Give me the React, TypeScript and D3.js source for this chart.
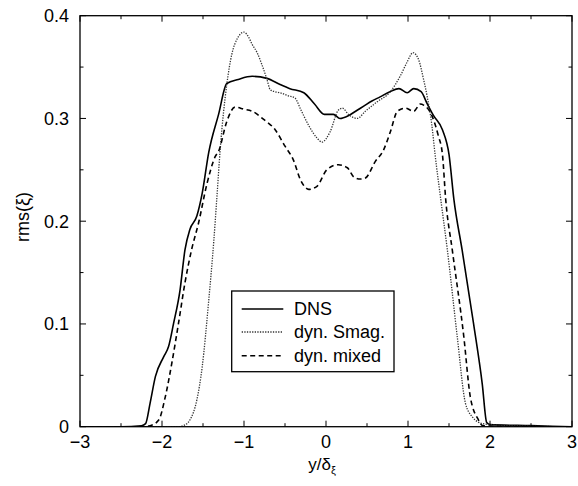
import React from "react";
import * as d3 from "d3";

const dnsX = [-3, -2.5, -2.25, -2.2, -2.145, -2.08, -1.98, -1.92, -1.86, -1.78, -1.72, -1.66, -1.575, -1.51, -1.43, -1.31, -1.21, -1.07, -0.9, -0.72, -0.56, -0.44, -0.27, -0.14, -0.02, 0.09, 0.17, 0.28, 0.38, 0.46, 0.56, 0.66, 0.78, 0.89, 0.99, 1.07, 1.16, 1.23, 1.31, 1.42, 1.5, 1.56, 1.66, 1.8, 1.905, 1.96, 2.0, 2.5, 3];
const dnsY = [0, 0, 0.001, 0.003, 0.023, 0.049, 0.068, 0.078, 0.1, 0.133, 0.172, 0.192, 0.205, 0.227, 0.267, 0.304, 0.334, 0.338, 0.341, 0.339, 0.333, 0.329, 0.325, 0.314, 0.304, 0.304, 0.3, 0.303, 0.308, 0.312, 0.317, 0.321, 0.326, 0.329, 0.325, 0.329, 0.326, 0.315, 0.303, 0.289, 0.265, 0.221, 0.172, 0.1, 0.042, 0.004, 0.002, 0.001, 0];

const smagX = [-3, -1.8, -1.74, -1.66, -1.575, -1.51, -1.43, -1.37, -1.33, -1.29, -1.21, -1.15, -1.08, -1.0, -0.95, -0.9, -0.84, -0.78, -0.72, -0.68, -0.62, -0.56, -0.46, -0.38, -0.31, -0.21, -0.11, -0.05, 0.05, 0.15, 0.2, 0.28, 0.38, 0.48, 0.62, 0.785, 0.91, 0.99, 1.06, 1.13, 1.19, 1.23, 1.29, 1.33, 1.4, 1.48, 1.6, 1.7, 1.78, 1.91, 2.2, 3];
const smagY = [0, 0, 0.001, 0.0065, 0.026, 0.058, 0.123, 0.179, 0.224, 0.27, 0.333, 0.362, 0.378, 0.384, 0.38, 0.372, 0.364, 0.352, 0.338, 0.328, 0.326, 0.325, 0.322, 0.32, 0.309, 0.293, 0.281, 0.277, 0.287, 0.308, 0.31, 0.3035, 0.3, 0.307, 0.316, 0.326, 0.342, 0.355, 0.364, 0.357, 0.338, 0.323, 0.294, 0.265, 0.221, 0.172, 0.088, 0.023, 0.01, 0.003, 0.001, 0];

const mixedX = [-3, -2.25, -2.145, -2.04, -1.96, -1.88, -1.8, -1.72, -1.64, -1.555, -1.45, -1.35, -1.31, -1.21, -1.11, -1.0, -0.9, -0.76, -0.62, -0.5, -0.4, -0.31, -0.21, -0.11, 0.01, 0.15, 0.26, 0.34, 0.42, 0.48, 0.6, 0.7, 0.785, 0.87, 0.97, 1.07, 1.15, 1.19, 1.29, 1.37, 1.42, 1.46, 1.54, 1.68, 1.76, 1.86, 1.91, 2.3, 3];
const mixedY = [0, 0, 0.001, 0.0065, 0.029, 0.062, 0.1, 0.14, 0.172, 0.198, 0.237, 0.263, 0.268, 0.297, 0.311, 0.309, 0.307, 0.299, 0.289, 0.273, 0.26, 0.24, 0.231, 0.234, 0.25, 0.255, 0.252, 0.243, 0.241, 0.242, 0.258, 0.269, 0.287, 0.307, 0.31, 0.307, 0.314, 0.313, 0.303, 0.283, 0.265, 0.221, 0.172, 0.088, 0.029, 0.0065, 0.001, 0, 0];

const xMajor = [-3, -2, -1, 0, 1, 2, 3];
const xMinor = [-2.5, -1.5, -0.5, 0.5, 1.5, 2.5];
const yMajor = [0, 0.1, 0.2, 0.3, 0.4];
const yMinor = [0.05, 0.15, 0.25, 0.35];
const yTickLabels = ["0", "0.1", "0.2", "0.3", "0.4"];
const xTickLabels = ["\u22123", "\u22122", "\u22121", "0", "1", "2", "3"];
const legendLabels = ["DNS", "dyn. Smag.", "dyn. mixed"];

const W = 578, H = 486;
const L = 80, R = 572, T = 15.7, B = 426.7;
const FONT = "'Liberation Sans', Arial, Helvetica, sans-serif";

export default function App() {
  const x = d3.scaleLinear().domain([-3, 3]).range([L, R]);
  const y = d3.scaleLinear().domain([0, 0.4]).range([B, T]);
  const line = d3
    .line<[number, number]>()
    .x((d) => x(d[0]))
    .y((d) => y(d[1]))
    .curve(d3.curveMonotoneX);
  const zip = (a: number[], b: number[]) => a.map((v, i) => [v, b[i]] as [number, number]);

  const series = [
    { d: zip(dnsX, dnsY), dash: "none", w: 1.6, c: "#000" },
    { d: zip(smagX, smagY), dash: "1.3,1.3", w: 1.3, c: "#333" },
    { d: zip(mixedX, mixedY), dash: "5,3.5", w: 1.6, c: "#000" },
  ];

  const maj = 6, min = 3.5;
  const legendX = 231.7, legendY = 291, legendW = 162.3, legendH = 80.7;
  const legendRows = [309, 332, 355.7];

  return (
    <svg width={W} height={H} style={{ position: "absolute", left: 0, top: 0, background: "#fff" }} fontFamily={FONT}>
      <rect x={0} y={0} width={W} height={H} fill="#fff" />
      <defs>
        <clipPath id="plot">
          <rect x={L} y={T - 2} width={R - L} height={B - T + 2} />
        </clipPath>
      </defs>
      <g clipPath="url(#plot)">
        {series.map((s, i) => (
          <path key={i} d={line(s.d) || ""} fill="none" stroke={s.c} strokeWidth={s.w} strokeDasharray={s.dash} strokeLinejoin="round" />
        ))}
      </g>
      <g stroke="#000" strokeWidth={1}>
        {xMajor.map((v) => (
          <g key={"xM" + v}>
            <line x1={x(v)} x2={x(v)} y1={B} y2={B - maj} />
            <line x1={x(v)} x2={x(v)} y1={T} y2={T + maj} />
          </g>
        ))}
        {xMinor.map((v) => (
          <g key={"xm" + v}>
            <line x1={x(v)} x2={x(v)} y1={B} y2={B - min} />
            <line x1={x(v)} x2={x(v)} y1={T} y2={T + min} />
          </g>
        ))}
        {yMajor.map((v) => (
          <g key={"yM" + v}>
            <line x1={L} x2={L + maj} y1={y(v)} y2={y(v)} />
            <line x1={R} x2={R - maj} y1={y(v)} y2={y(v)} />
          </g>
        ))}
        {yMinor.map((v) => (
          <g key={"ym" + v}>
            <line x1={L} x2={L + min} y1={y(v)} y2={y(v)} />
            <line x1={R} x2={R - min} y1={y(v)} y2={y(v)} />
          </g>
        ))}
      </g>
      <rect x={L} y={T} width={R - L} height={B - T} fill="none" stroke="#000" strokeWidth={1.3} />
      <g fontSize={18} fill="#000">
        {yMajor.map((v, i) => (
          <text key={"yl" + v} x={L - 11} y={y(v)} dy="0.35em" textAnchor="end">
            {yTickLabels[i]}
          </text>
        ))}
        {xMajor.map((v, i) => (
          <text key={"xl" + v} x={x(v)} y={448} textAnchor="middle">
            {xTickLabels[i]}
          </text>
        ))}
      </g>
      <text x={322} y={470} fontSize={17} textAnchor="middle">
        y/δ<tspan fontSize={11} dy={4}>ξ</tspan>
      </text>
      <text transform={`translate(29,217) rotate(-90)`} fontSize={18} textAnchor="middle">
        rms(ξ)
      </text>
      <rect x={legendX} y={legendY} width={legendW} height={legendH} fill="#fff" stroke="#000" strokeWidth={1.3} />
      {series.map((s, i) => (
        <g key={"lg" + i}>
          <line x1={241.7} x2={283.3} y1={legendRows[i]} y2={legendRows[i]} stroke={s.c} strokeWidth={s.w} strokeDasharray={s.dash} />
          <text x={294} y={legendRows[i]} dy="0.35em" fontSize={18}>
            {legendLabels[i]}
          </text>
        </g>
      ))}
    </svg>
  );
}
